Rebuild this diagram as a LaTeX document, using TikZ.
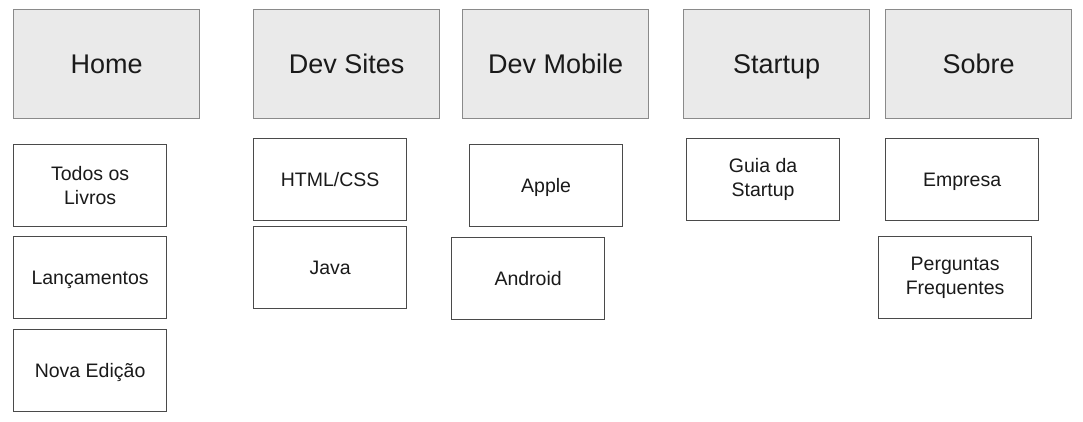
\documentclass[tikz,border=0pt]{standalone}
\usepackage{fontspec}
\setmainfont{Liberation Sans}

\definecolor{cinzaFundo}{HTML}{EAEAEA}
\definecolor{cinzaBorda}{HTML}{8A8A8A}
\definecolor{cinzaEscuro}{HTML}{4A4A4A}
\definecolor{texto}{HTML}{1A1A1A}

\begin{document}
\begin{tikzpicture}[x=1pt,y=-1pt,
    menu/.style={draw=cinzaBorda, fill=cinzaFundo, line width=1.3pt,
        minimum width=186pt, minimum height=109pt, inner sep=0pt,
        anchor=north west, text=texto,
        text height=19.4pt, text depth=0pt,
        font=\fontsize{27}{32}\selectfont},
    submenu/.style={draw=cinzaEscuro, fill=white, line width=1.2pt,
        minimum width=153pt, minimum height=82pt, inner sep=0pt,
        anchor=north west, text=texto, align=center,
        font=\fontsize{19.5}{24}\selectfont},
    linha/.style={text height=14pt, text depth=0pt}]

            \useasboundingbox (0,0) rectangle (1083,422);

            %---------------- MENU PRINCIPAL ----------------
            \node[menu] (home)    at (13,9)  {Home};
            \node[menu] (sites)   at (253,9) {Dev Sites};
            \node[menu] (mobile)  at (462,9) {Dev Mobile};
            \node[menu] (startup) at (683,9) {Startup};
            \node[menu] (sobre)   at (885,9) {Sobre};

            %---------------- HOME ----------------
            \node[submenu] (livros)             at (13,144) {Todos os\\Livros};
            \node[submenu, linha] (lancamentos) at (13,236) {Lançamentos};
            \node[submenu, linha] (edicao)      at (13,329) {Nova Edição};

            %---------------- DEV SITES ----------------
            \node[submenu, linha] (html) at (253,138) {HTML/CSS};
            \node[submenu, linha] (java) at (253,226) {Java};

            %---------------- DEV MOBILE ----------------
            % Caixas ligeiramente desalinhadas, como no esboço
            \node[submenu, linha] (apple)   at (469,144) {Apple};
            \node[submenu, linha] (android) at (451,237) {Android};

            %---------------- STARTUP ----------------
            \node[submenu] (guia) at (686,138) {Guia da\\Startup};

            %---------------- SOBRE ----------------
            \node[submenu, linha] (empresa) at (885,138) {Empresa};
            \node[submenu] (perguntas)      at (878,236) {Perguntas\\Frequentes};

        \end{tikzpicture}
\end{document}
